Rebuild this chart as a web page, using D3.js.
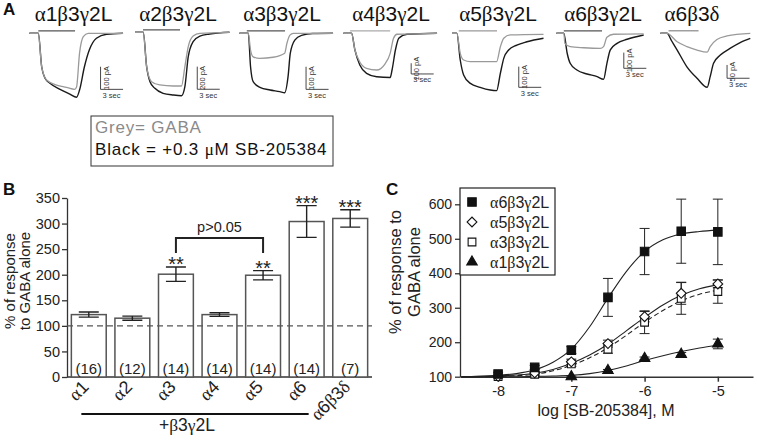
<!DOCTYPE html>
<html>
<head>
<meta charset="utf-8">
<script src="https://cdn.jsdelivr.net/npm/d3@7"></script>
<style>
  body { margin: 0; background: #fff; }
  svg { font-family: Arial, "Liberation Sans", sans-serif; }
</style>
</head>
<body>
<svg id="fig" width="757" height="440"></svg>
<script>
// ---------- panel A: example current traces (time in s, current in pA) ----------
var traceTitles = ["α1β3γ2L", "α2β3γ2L", "α3β3γ2L", "α4β3γ2L", "α5β3γ2L", "α6β3γ2L", "α6β3δ"];

var greyTraces = [
  [[0,0],[1.2,0],[1.65,-148],[2.3,-207],[3.65,-229],[4.95,-239],[6.05,-248],[6.3,-238],[6.7,-88],[7.2,-15],[7.85,0],[12.5,0]],
  [[0,0],[1.1,0],[1.55,-304],[2.2,-437],[3.3,-466],[5.1,-475],[6.2,-475],[6.65,-304],[7.1,-127],[7.75,-33],[8.65,-9],[12.6,0]],
  [[0,0],[1.2,0],[1.5,-74],[1.85,-104],[2.75,-111],[4.5,-106],[6.05,-88],[6.35,-44],[6.75,-8],[7.2,0],[12.5,0]],
  [[0,0],[1.1,0],[1.55,-156],[2.2,-268],[3.1,-327],[4.45,-343],[5.55,-287],[6.25,-187],[6.7,-47],[7.15,-9],[12.5,0]],
  [[0,0],[0.65,0],[1.1,-97],[1.55,-129],[2.45,-137],[4.2,-137],[5.95,-137],[6.45,-65],[6.9,-24],[7.75,-8],[12.2,-5]],
  [[0,0],[1,0],[1.15,-64],[1.85,-85],[3.65,-92],[5.85,-96],[6.3,-85],[6.75,-25],[7.65,-6],[11.65,-4]],
  [[0,0],[0.9,0],[2.25,-32],[3.55,-50],[4.9,-63],[6.25,-71],[6.65,-50],[7.55,-23],[8.9,-10],[12,0]]
];

var blackTraces = [
  [[0,0],[1.2,0],[1.65,-148],[2.1,-199],[2.75,-221],[4.1,-248],[5.4,-269],[6.3,-283],[6.7,-251],[7.35,-148],[8.0,-74],[8.95,-22],[10.3,-4],[12.5,0]],
  [[0,0],[1.1,0],[1.55,-304],[2.0,-437],[2.65,-496],[3.75,-540],[5.1,-555],[6.2,-561],[6.65,-481],[7.1,-216],[7.75,-83],[8.65,-33],[9.95,-15],[12.6,0]],
  [[0,0],[1.2,0],[1.5,-148],[1.85,-214],[2.75,-239],[4.1,-251],[5.4,-258],[6.05,-263],[6.5,-192],[6.8,-88],[7.4,-30],[8.3,-9],[9.8,-1],[12.5,0]],
  [[0,0],[1.1,0],[1.55,-156],[2.2,-296],[3.1,-374],[4.45,-406],[6.25,-413],[6.5,-343],[6.95,-156],[7.4,-47],[8.5,-9],[12.5,0]],
  [[0,0],[0.65,0],[1.1,-129],[1.55,-201],[2.45,-242],[3.75,-261],[5.1,-274],[5.95,-277],[6.45,-193],[6.9,-121],[7.55,-81],[8.65,-57],[10,-41],[12.2,-24]],
  [[0,0],[1,0],[1.45,-127],[1.85,-191],[2.75,-234],[4.1,-259],[5.45,-276],[6.3,-293],[6.75,-191],[7.2,-106],[8.1,-64],[9.45,-38],[11.65,-11]],
  [[0,0],[0.9,0],[1.5,-28],[2.25,-63],[3.55,-126],[4.9,-169],[6.25,-203],[6.65,-163],[7.1,-113],[8,-82],[9.35,-56],[10.65,-35],[12,-19]]
];

var drugOn = [[1.2,6.1],[1.07,6.0],[1.0,6.1],[0.9,6.25],[0.9,6.0],[1.0,6.1],[1.1,5.1]];
var barPA = [100, 200, 100, 100, 100, 100, 50];
var barSec = 3;
var barAt = [[9.5,-248],[8.3,-504],[8.9,-248],[9.05,-380],[8.9,-261],[9,-223],[8.9,-169]];

// ---------- panel B: bar chart ----------
var bCats = ["α1", "α2", "α3", "α4", "α5", "α6", "α6β3δ"];
var bMeans = [122, 115, 201, 122, 199, 304, 310];
var bErr = [5, 4, 14, 3.5, 9, 31, 17];
var bN = ["(16)", "(12)", "(14)", "(14)", "(14)", "(14)", "(7)"];
var bStars = ["", "", "**", "", "**", "***", "***"];
var bTicks = [0, 50, 100, 150, 200, 250, 300, 350];

// ---------- panel C: concentration-response ----------
var logConc = [-8, -7.5, -7, -6.5, -6, -5.5, -5];
var a6Mean = [108, 127, 177, 330, 463, 522, 520];
var a6Err = [5, 6, 10, 55, 67, 93, 95];
var a5Mean = [101, 111, 143, 196, 274, 342, 369];
var a5Err = [3, 4, 8, 10, 15, 32, 11];
var a3Mean = [100, 107, 137, 180, 258, 327, 347];
var a3Err = [3, 4, 7, 12, 33, 46, 34];
var a1Conc = [-7, -6.5, -6, -5.5, -5];
var a1Mean = [100, 118, 153, 165, 195];
var a1Err = [2, 3, 4, 5, 14];
// fitted curves
var fitConc = [-8.5, -8.25, -8, -7.75, -7.5, -7.25, -7, -6.75, -6.5, -6.25, -6, -5.75, -5.5, -5.25, -5];
var fitA6 = [100, 101, 104, 109, 120, 142, 180, 245, 328, 405, 463, 497, 514, 521, 525];
var fitA5 = [100, 101, 102, 105, 110, 121, 139, 163, 194, 233, 272, 308, 336, 355, 367];
var fitA3 = [100, 100, 101, 103, 107, 117, 133, 155, 184, 220, 258, 292, 320, 339, 351];
var fitA1 = [100, 100, 100, 100, 101, 102, 104, 109, 118, 131, 147, 161, 173, 183, 191];
var cLegend = ["α6β3γ2L", "α5β3γ2L", "α3β3γ2L", "α1β3γ2L"];
var cTicksY = [100, 200, 300, 400, 500, 600];
var cTicksX = [-8, -7, -6, -5];

var svg = d3.select("#fig");
var ink = "#222";

// greek letters set in a serif face like the original
function greekText(sel, str) {
  str.split(/([\u0370-\u03ff]+)/).forEach(function (part) {
    if (!part) return;
    var t = sel.append("tspan").text(part);
    if (/[\u0370-\u03ff]/.test(part)) t.attr("font-family", '"Liberation Serif", "DejaVu Serif", serif');
  });
  return sel;
}

// panel letters
[["A", 3, 15], ["B", 3, 195], ["C", 386, 195]].forEach(function (p) {
  svg.append("text").attr("x", p[1]).attr("y", p[2])
    .attr("font-size", 17).attr("font-weight", "bold").attr("fill", "#111").text(p[0]);
});

// ================= A =================
var panelX0 = [29.3, 135, 239.3, 343.3, 452, 556.3, 660.3];
var panelY0 = [33.3, 32.3, 33.3, 33.3, 33.3, 33.3, 33.3];
var pxPerPA = [0.226, 0.113, 0.226, 0.107, 0.207, 0.157, 0.266];
var titleX = [73.5, 178, 282, 391, 498, 603, 692];
var drugCol = ["#555", "#555", "#555", "#aaa", "#999", "#555", "#888"];
var pxPerSec = 7.5;

var gA = svg.append("g");
traceTitles.forEach(function (name, i) {
  var tx = d3.scaleLinear().domain([0, 1]).range([panelX0[i], panelX0[i] + pxPerSec]);
  var iy = d3.scaleLinear().domain([0, -100]).range([panelY0[i], panelY0[i] + 100 * pxPerPA[i]]);
  var line = d3.line().x(function (d) { return tx(d[0]); }).y(function (d) { return iy(d[1]); })
    .curve(d3.curveMonotoneX);

  greekText(gA.append("text").attr("x", titleX[i]).attr("y", 21)
    .attr("text-anchor", "middle").attr("font-size", 21).attr("fill", "#111"), name);

  gA.append("line")
    .attr("x1", tx(drugOn[i][0])).attr("x2", tx(drugOn[i][1]))
    .attr("y1", iy(0) - 2.5).attr("y2", iy(0) - 2.5)
    .attr("stroke", drugCol[i]).attr("stroke-width", 1.2);

  gA.append("path").attr("d", line(blackTraces[i]))
    .attr("fill", "none").attr("stroke", "#1a1a1a").attr("stroke-width", 1.4);
  gA.append("path").attr("d", line(greyTraces[i]))
    .attr("fill", "none").attr("stroke", "#9a9a9a").attr("stroke-width", 1.3);

  // scale bar
  var bx = tx(barAt[i][0]), by = iy(barAt[i][1]);
  var top = iy(barAt[i][1] + barPA[i]);
  gA.append("path")
    .attr("d", "M" + bx + "," + top + "V" + by + "H" + tx(barAt[i][0] + barSec))
    .attr("fill", "none").attr("stroke", "#333").attr("stroke-width", 0.9);
  gA.append("text")
    .attr("transform", "translate(" + (bx + 8) + "," + ((top + by) / 2) + ") rotate(-90)")
    .attr("text-anchor", "middle").attr("font-size", 7.5).attr("fill", "#333")
    .text(barPA[i] + " pA");
  gA.append("text").attr("x", bx + 2).attr("y", by + 8.5)
    .attr("font-size", 7.5).attr("fill", "#333").text(barSec + " sec");
});

// legend box of A
gA.append("rect").attr("x", 91).attr("y", 116).attr("width", 242).attr("height", 50)
  .attr("fill", "none").attr("stroke", "#333").attr("stroke-width", 1);
gA.append("text").attr("x", 95).attr("y", 133).attr("font-size", 17).attr("letter-spacing", 0.8)
  .attr("fill", "#8a8a8a").text("Grey= GABA");
greekText(gA.append("text").attr("x", 95).attr("y", 155).attr("font-size", 17)
  .attr("letter-spacing", 0.8).attr("fill", "#111"), "Black = +0.3 μM SB-205384");

// ================= B =================
var xB = d3.scaleBand().domain(bCats).range([67, 372]).paddingInner(0.2).paddingOuter(0.1);
var yB = d3.scaleLinear().domain([0, 350]).range([377, 198]);
var gB = svg.append("g");

gB.append("g").attr("transform", "translate(67,0)")
  .call(d3.axisLeft(yB).tickValues(bTicks).tickSize(5).tickSizeOuter(0).tickPadding(2))
  .call(function (g) {
    g.selectAll("text").attr("font-size", 14.5).attr("fill", ink).attr("font-family", "Arial, 'Liberation Sans', sans-serif");
    g.selectAll("line,path").attr("stroke", "#333").attr("stroke-width", 1.3);
  });
gB.append("line").attr("x1", 67).attr("x2", 372).attr("y1", yB(0)).attr("y2", yB(0))
  .attr("stroke", "#333").attr("stroke-width", 1.5);

var bw = xB.bandwidth();
bCats.forEach(function (c, i) {
  gB.append("rect").attr("x", xB(c)).attr("y", yB(bMeans[i]))
    .attr("width", bw).attr("height", yB(0) - yB(bMeans[i]))
    .attr("fill", "#fff").attr("stroke", "#555").attr("stroke-width", 1.5);
});

gB.append("line").attr("x1", 67).attr("x2", 372).attr("y1", yB(100)).attr("y2", yB(100))
  .attr("stroke", "#555").attr("stroke-width", 1.3).attr("stroke-dasharray", "6,4");

bCats.forEach(function (c, i) {
  var cx = xB(c) + bw / 2;
  var hi = yB(bMeans[i] + bErr[i]), lo = yB(bMeans[i] - bErr[i]);
  gB.append("path")
    .attr("d", "M" + (cx - 10) + "," + hi + "H" + (cx + 10) + "M" + cx + "," + hi + "V" + lo +
      "M" + (cx - 10) + "," + lo + "H" + (cx + 10))
    .attr("fill", "none").attr("stroke", "#222").attr("stroke-width", 1.4);
  if (bStars[i]) {
    gB.append("text").attr("x", cx).attr("y", hi + 4).attr("text-anchor", "middle")
      .attr("font-size", 20).attr("fill", ink).text(bStars[i]);
  }
  gB.append("text").attr("x", cx).attr("y", 374).attr("text-anchor", "middle")
    .attr("font-size", 15).attr("fill", ink).text(bN[i]);
  greekText(gB.append("text")
    .attr("transform", "translate(" + (cx + 1) + ",388) rotate(-45)")
    .attr("text-anchor", "end").attr("font-size", 18).attr("fill", ink), c);
});

// significance bracket
var c3 = xB("α3") + bw / 2, c5 = xB("α5") + bw / 2, yBr = yB(272);
gB.append("path")
  .attr("d", "M" + c3 + "," + (yBr + 15) + "V" + yBr + "H" + c5 + "V" + (yBr + 15))
  .attr("fill", "none").attr("stroke", "#222").attr("stroke-width", 2);
gB.append("text").attr("x", (c3 + c5) / 2).attr("y", yBr - 6).attr("text-anchor", "middle")
  .attr("font-size", 14.5).attr("fill", ink).text("p>0.05");

// +β3γ2L grouping line
gB.append("line").attr("x1", xB("α1") + 10).attr("x2", xB("α6") + bw / 2 + 2)
  .attr("y1", 414).attr("y2", 414).attr("stroke", "#111").attr("stroke-width", 2);
greekText(gB.append("text").attr("x", 187).attr("y", 431).attr("text-anchor", "middle")
  .attr("font-size", 17.5).attr("fill", ink), "+β3γ2L");

// y label
[["% of response", 14.5], ["to GABA alone", 30]].forEach(function (l) {
  gB.append("text").attr("transform", "translate(" + l[1] + ",281) rotate(-90)")
    .attr("text-anchor", "middle").attr("font-size", 15).attr("fill", ink).text(l[0]);
});

// ================= C =================
var xC = d3.scaleLinear().domain([-8.52, -4.52]).range([460, 753]);
var yC = d3.scaleLinear().domain([100, 600]).range([376.7, 204.3]);
var gC = svg.append("g");

gC.append("g").attr("transform", "translate(460,0)")
  .call(d3.axisLeft(yC).tickValues(cTicksY).tickSize(5).tickSizeOuter(0).tickPadding(3))
  .call(function (g) {
    g.selectAll("text").attr("font-size", 14).attr("fill", ink).attr("font-family", "Arial, 'Liberation Sans', sans-serif");
    g.selectAll("line,path").attr("stroke", "#333").attr("stroke-width", 1.3);
  });
gC.append("g").attr("transform", "translate(0," + yC(100) + ")")
  .call(d3.axisBottom(xC).tickValues(cTicksX).tickSize(5).tickSizeOuter(0).tickPadding(4)
    .tickFormat(function (d) { return String(d); }))
  .call(function (g) {
    g.selectAll("text").attr("font-size", 14.5).attr("fill", ink).attr("font-family", "Arial, 'Liberation Sans', sans-serif");
    g.selectAll("line,path").attr("stroke", "#333").attr("stroke-width", 1.5);
  });

gC.append("text").attr("x", 606).attr("y", 416).attr("text-anchor", "middle")
  .attr("font-size", 16).attr("fill", ink).text("log [SB-205384], M");
[["% of response to", 401], ["GABA alone", 420]].forEach(function (l) {
  gC.append("text").attr("transform", "translate(" + l[1] + ",272) rotate(-90)")
    .attr("text-anchor", "middle").attr("font-size", 16.5).attr("fill", ink).text(l[0]);
});

var fitLine = function (vals) {
  return d3.line().x(function (d, i) { return xC(fitConc[i]); }).y(function (d) { return yC(d); })
    .curve(d3.curveMonotoneX)(vals);
};
[[fitA1, null], [fitA3, "5,3"], [fitA5, null], [fitA6, null]].forEach(function (f) {
  gC.append("path").attr("d", fitLine(f[0])).attr("fill", "none")
    .attr("stroke", "#222").attr("stroke-width", 1.1).attr("stroke-dasharray", f[1]);
});

var series = [
  { conc: a1Conc, mean: a1Mean, err: a1Err, sym: d3.symbolTriangle, size: 48, fill: "#111", rot: 0 },
  { conc: logConc, mean: a3Mean, err: a3Err, sym: d3.symbolSquare, size: 60, fill: "#fff", rot: 0 },
  { conc: logConc, mean: a5Mean, err: a5Err, sym: d3.symbolSquare, size: 48, fill: "#fff", rot: 45 },
  { conc: logConc, mean: a6Mean, err: a6Err, sym: d3.symbolSquare, size: 72, fill: "#111", rot: 0 }
];
series.forEach(function (s) {
  s.conc.forEach(function (c, i) {
    var x = xC(c), hi = yC(s.mean[i] + s.err[i]), lo = yC(s.mean[i] - s.err[i]);
    gC.append("path")
      .attr("d", "M" + (x - 5) + "," + hi + "H" + (x + 5) + "M" + x + "," + hi + "V" + lo +
        "M" + (x - 5) + "," + lo + "H" + (x + 5))
      .attr("fill", "none").attr("stroke", "#222").attr("stroke-width", 1);
  });
});
series.forEach(function (s) {
  s.conc.forEach(function (c, i) {
    gC.append("path").attr("d", d3.symbol().type(s.sym).size(s.size)())
      .attr("transform", "translate(" + xC(c) + "," + yC(s.mean[i]) + ") rotate(" + s.rot + ")")
      .attr("fill", s.fill).attr("stroke", "#111").attr("stroke-width", 1.1);
  });
});

// legend of C
gC.append("rect").attr("x", 460).attr("y", 188).attr("width", 95).attr("height", 87)
  .attr("fill", "#fff").attr("stroke", "#222").attr("stroke-width", 1.2);
var legSyms = [series[3], series[2], series[1], series[0]];
cLegend.forEach(function (name, i) {
  var y = 202 + i * 20;
  var s = legSyms[i];
  gC.append("path").attr("d", d3.symbol().type(s.sym).size(s.size)())
    .attr("transform", "translate(472," + y + ") rotate(" + s.rot + ")")
    .attr("fill", s.fill).attr("stroke", "#111").attr("stroke-width", 1.1);
  greekText(gC.append("text").attr("x", 490).attr("y", y + 6)
    .attr("font-size", 16).attr("fill", ink), name);
});
</script>
</body>
</html>
